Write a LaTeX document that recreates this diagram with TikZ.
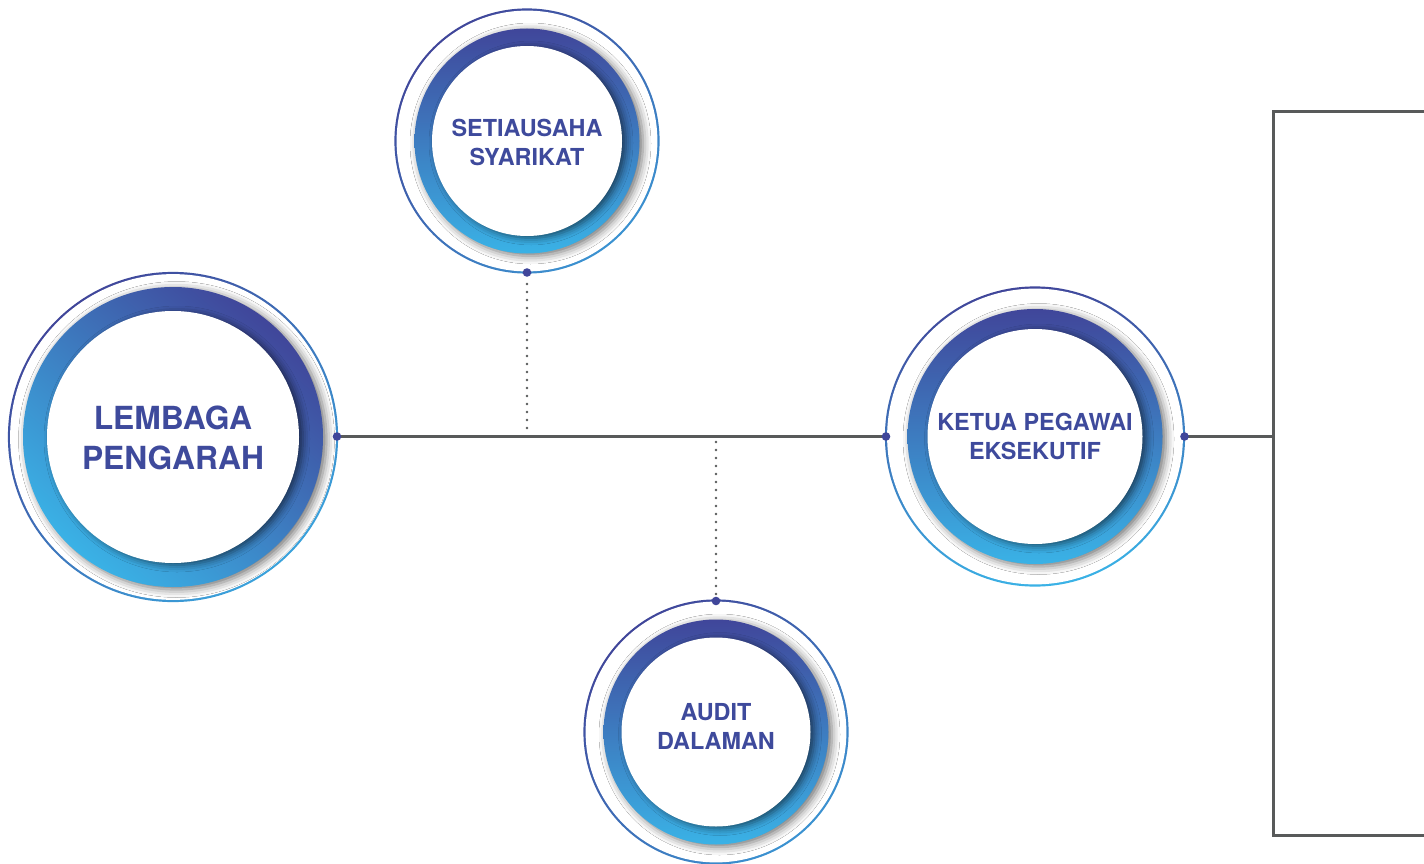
\documentclass[tikz,border=0pt]{standalone}
\usepackage{fontspec}
\setmainfont{TeX Gyre Heros}
\usetikzlibrary{shadows.blur}
\definecolor{dkblue}{RGB}{64,70,154}
\definecolor{ltblue}{RGB}{58,178,230}
\definecolor{midblue}{RGB}{60,125,195}
\definecolor{txtblue}{RGB}{62,74,156}
\definecolor{linegray}{RGB}{88,90,90}
\tikzset{
  ringshadow/.style={blur shadow={shadow xshift=3.5pt, shadow yshift=-2.5pt, shadow blur radius=8pt, shadow opacity=55}},
  diskshadow/.style={blur shadow={shadow xshift=4pt, shadow yshift=-2pt, shadow blur radius=7pt, shadow opacity=55}},
  orgnode/.style={circle, inner sep=0pt, align=center, text=txtblue, font=\bfseries},
  smalltext/.style={font=\bfseries\fontsize{23.4}{29}\selectfont},
  bigtext/.style={font=\bfseries\fontsize{31.8}{40}\selectfont},
  mainline/.style={draw=linegray, line width=2.5pt},
  bracketline/.style={draw=linegray, line width=3pt},
  dotline/.style={draw=linegray, line width=2.6pt, line cap=round, dash pattern=on 0pt off 8pt},
  joint/.style={fill=dkblue}
}
\newcommand\orgring[8]{%
  \shade[top color=dkblue, bottom color=#8, shading angle=#7] (#1,#2) circle[radius=#3pt+1.1pt];
  \fill[white] (#1,#2) circle[radius=#3pt-1.1pt];
  \shade[top color=dkblue, bottom color=ltblue, shading angle=#6, ringshadow] (#1,#2) circle[radius=#4pt];
  \fill[white, diskshadow] (#1,#2) circle[radius=#5pt];
}
\begin{document}
\begin{tikzpicture}[x=1pt, y=-1pt]
\useasboundingbox[fill=white] (0,0) rectangle (1424,864);
% rings
\orgring{173}{437}{164}{150}{126}{-40}{40}{ltblue!70!midblue}
\orgring{527}{141}{131.5}{112.5}{95}{0}{40}{ltblue!40!midblue}
\orgring{1035}{436.5}{149}{127.5}{107.5}{0}{10}{ltblue}
\orgring{716}{732}{131.5}{112.5}{94.5}{0}{40}{ltblue!40!midblue}
% nodes
\node[orgnode, bigtext, minimum size=328pt] (lem) at (173,437.5) {LEMBAGA\\PENGARAH};
\node[orgnode, smalltext, minimum size=263pt] (sec) at (527,142) {SETIAUSAHA\\SYARIKAT};
\node[orgnode, smalltext, minimum size=298pt] (ceo) at (1035,436.5) {KETUA PEGAWAI\\EKSEKUTIF};
\node[orgnode, smalltext, minimum size=263pt] (aud) at (716,726.5) {AUDIT\\DALAMAN};
% coordinates
\coordinate (lemE) at (337,436.5);
\coordinate (ceoW) at (886,436.5);
\coordinate (ceoE) at (1184.5,436.5);
\coordinate (secS) at (527,272.5);
\coordinate (audN) at (716,601);
\coordinate (j1) at (527,428);
\coordinate (j2) at (716,442);
\coordinate (brTop) at (1440,111.5);
\coordinate (brTL) at (1273.5,111.5);
\coordinate (brBL) at (1273.5,835.5);
\coordinate (brBot) at (1440,835.5);
\coordinate (brMid) at (1273.5,436.5);
% connectors
\draw[mainline] (lemE) -- (ceoW);
\draw[mainline] (ceoE) -- (brMid);
\draw[bracketline] (brTop) -- (brTL) -- (brBL) -- (brBot);
\draw[dotline] (j1) -- ([yshift=-4pt]secS);
\draw[dotline] (j2) -- ([yshift=4pt]audN);
% joints
\fill[joint] (lemE) circle[radius=4.3pt];
\fill[joint] (ceoW) circle[radius=4.3pt];
\fill[joint] (ceoE) circle[radius=4.3pt];
\fill[joint] (secS) circle[radius=4.3pt];
\fill[joint] (audN) circle[radius=4.3pt];
\end{tikzpicture}
\end{document}
